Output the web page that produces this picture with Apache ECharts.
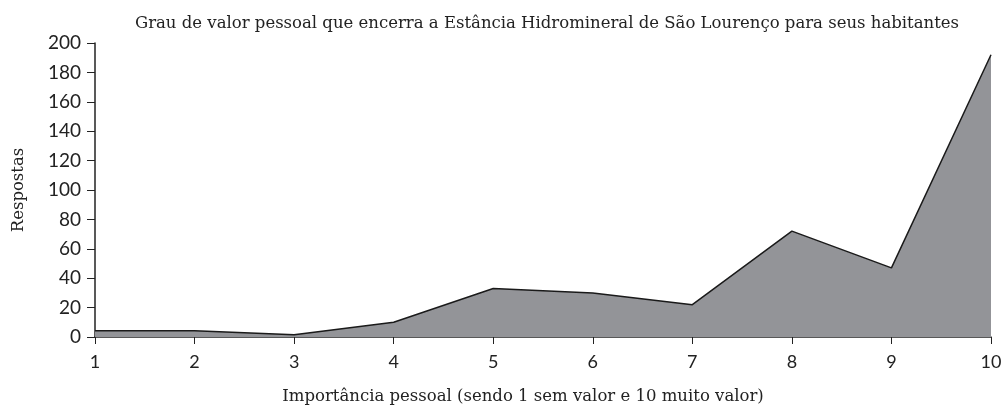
<!DOCTYPE html>
<html>
<head>
<meta charset="utf-8">
<script src="https://cdn.jsdelivr.net/npm/echarts@6/dist/echarts.min.js"></script>
<style>
  html, body { margin: 0; padding: 0; background: #fff; }
  #main { width: 1007px; height: 409px; }
</style>
</head>
<body>
<div id="main"></div>
<script>
// importância pessoal (1 a 10)
var categories = ['1', '2', '3', '4', '5', '6', '7', '8', '9', '10'];
// número de respostas
var respostas = [4.3, 4.2, 1.5, 10, 33, 30, 22, 72, 47, 192];

var titulo = 'Grau de valor pessoal que encerra a Estância Hidromineral de São Lourenço para seus habitantes';
var nomeX = 'Importância pessoal (sendo 1 sem valor e 10 muito valor)';
var nomeY = 'Respostas';

var serifa = '"DejaVu Serif", "Liberation Serif", serif';
var numeros = 'Lato, "Noto Sans", sans-serif';

var myChart = echarts.init(document.getElementById('main'));
myChart.setOption({
    animation: false,
    title: {
        text: titulo,
        left: 542,
        top: 10,
        textAlign: 'center',
        textStyle: { fontFamily: serifa, fontSize: 16.5, fontWeight: 'normal', color: '#222' }
    },
    grid: { left: 95, right: 16, top: 43, bottom: 72, containLabel: false, outerBoundsMode: 'none' },
    xAxis: {
        type: 'category',
        data: categories,
        boundaryGap: false,
        name: nomeX,
        nameLocation: 'middle',
        nameGap: 51,
        nameTextStyle: { fontFamily: serifa, fontSize: 16.5, color: '#222', padding: [0, 40, 0, 0] },
        axisLine: { lineStyle: { color: '#222', width: 1.5 } },
        axisTick: { show: true, length: 7, inside: false, lineStyle: { color: '#222' } },
        axisLabel: { fontFamily: numeros, fontSize: 18, color: '#222', margin: 16 },
        splitLine: { show: false }
    },
    yAxis: {
        type: 'value',
        min: 0,
        max: 200,
        interval: 20,
        name: nomeY,
        nameLocation: 'middle',
        nameGap: 68,
        nameRotate: 90,
        nameTextStyle: { fontFamily: serifa, fontSize: 16.5, color: '#222' },
        axisLine: { show: true, lineStyle: { color: '#222', width: 1.5 } },
        axisTick: { show: true, length: 8, lineStyle: { color: '#222' } },
        axisLabel: { fontFamily: numeros, fontSize: 19, color: '#222', margin: 14 },
        splitLine: { show: false }
    },
    series: [{
        type: 'line',
        data: respostas,
        symbol: 'none',
        lineStyle: { color: '#1a1a1a', width: 1.5 },
        areaStyle: { color: '#939498', opacity: 1 }
    }]
});
</script>
</body>
</html>
